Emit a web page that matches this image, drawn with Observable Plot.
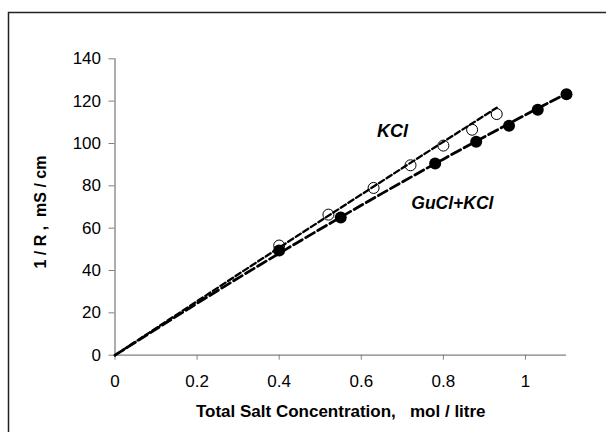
<!DOCTYPE html>
<html>
<head>
<meta charset="utf-8">
<script src="https://cdn.jsdelivr.net/npm/d3@7"></script>
<script src="https://cdn.jsdelivr.net/npm/@observablehq/plot@0.6"></script>
<style>
  html, body { margin: 0; padding: 0; background: white; }
  #chart { width: 606px; height: 432px; overflow: hidden; }
</style>
</head>
<body>
<div id="chart"></div>
<script>
const kclX  = [0.40, 0.52, 0.63, 0.72, 0.80, 0.87, 0.93];
const kclY  = [51.8, 66.4, 79.0, 89.7, 99.0, 106.5, 113.9];
const guclX = [0.40, 0.55, 0.78, 0.88, 0.96, 1.03, 1.10];
const guclY = [49.4, 65.0, 90.6, 100.8, 108.4, 115.9, 123.3];

// Trend lines
const kclFitX  = [0, 0.2, 0.4, 0.6, 0.8, 0.93];
const kclFitY  = [0, 25.5, 50.8, 75.9, 100.8, 116.9];
const guclFitX = [0, 0.2, 0.4, 0.6, 0.8, 1.0, 1.1];
const guclFitY = [0, 24.5, 48.1, 70.8, 92.6, 113.5, 123.5];

// Tick labels
const xTicks = [0, 0.2, 0.4, 0.6, 0.8, 1];
const yTicks = [0, 20, 40, 60, 80, 100, 120, 140];

const xTitle = "Total Salt Concentration,\u00a0\u00a0 mol / litre";
const yTitle = "1 / R ,\u00a0 mS / cm";
const seriesLabels = ["KCl", "GuCl+KCl"];

const zip = (xs, ys) => xs.map((x, i) => ({x, y: ys[i]}));
const kcl = zip(kclX, kclY);
const gucl = zip(guclX, guclY);
const kclFit = zip(kclFitX, kclFitY);
const guclFit = zip(guclFitX, guclFitY);

const axisColor = "#808080";
const font = "'Liberation Sans', Arial, sans-serif";

const chart = Plot.plot({
  width: 606,
  height: 432,
  marginLeft: 114.5,
  marginRight: 40,
  marginTop: 58.3,
  marginBottom: 77.3,
  style: {fontFamily: font, fontSize: "17px", background: "white", color: "black"},
  x: {domain: [0, 1.1]},
  y: {domain: [0, 140]},
  marks: [
    Plot.axisX({ticks: xTicks, tickSize: 5, tickPadding: 15, tickFormat: d => String(d),
      stroke: axisColor, fill: "black", label: null, fontSize: 17}),
    Plot.axisY({ticks: yTicks, tickSize: 6, tickPadding: 8, tickFormat: d => String(d),
      stroke: axisColor, fill: "black", label: null, fontSize: 17}),
    Plot.ruleY([0], {stroke: axisColor, strokeWidth: 1.3}),
    Plot.ruleX([0], {stroke: axisColor, strokeWidth: 1.3}),
    Plot.line(kclFit, {x: "x", y: "y", curve: "natural", stroke: "black", strokeWidth: 2.3, strokeDasharray: "6,3"}),
    Plot.line(guclFit, {x: "x", y: "y", curve: "natural", stroke: "black", strokeWidth: 2.8, strokeDasharray: "10,4"}),
    Plot.dot(kcl, {x: "x", y: "y", r: 5.5, stroke: "black", strokeWidth: 1, fill: "none"}),
    Plot.dot(gucl, {x: "x", y: "y", r: 6, fill: "black", stroke: "none"}),
    Plot.text([seriesLabels[0]], {x: 0.676, y: 105.6, text: d => d, fontWeight: "bold", fontStyle: "italic", fontSize: 18}),
    Plot.text([seriesLabels[1]], {x: 0.822, y: 71.6, text: d => d, fontWeight: "bold", fontStyle: "italic", fontSize: 17.5}),
    Plot.text([xTitle], {frameAnchor: "bottom", dy: 62, text: d => d, fontWeight: "bold", fontSize: 17, textAnchor: "middle"}),
    Plot.text([yTitle], {frameAnchor: "left", dx: -74, dy: 5, rotate: -90, text: d => d, fontWeight: "bold", fontSize: 16, textAnchor: "middle"})
  ]
});

d3.select(chart).append("path")
  .attr("d", "M8.5,432V12.5H606")
  .attr("fill", "none")
  .attr("stroke", "#222")
  .attr("stroke-width", 1.5);

document.getElementById("chart").appendChild(chart);
</script>
</body>
</html>
